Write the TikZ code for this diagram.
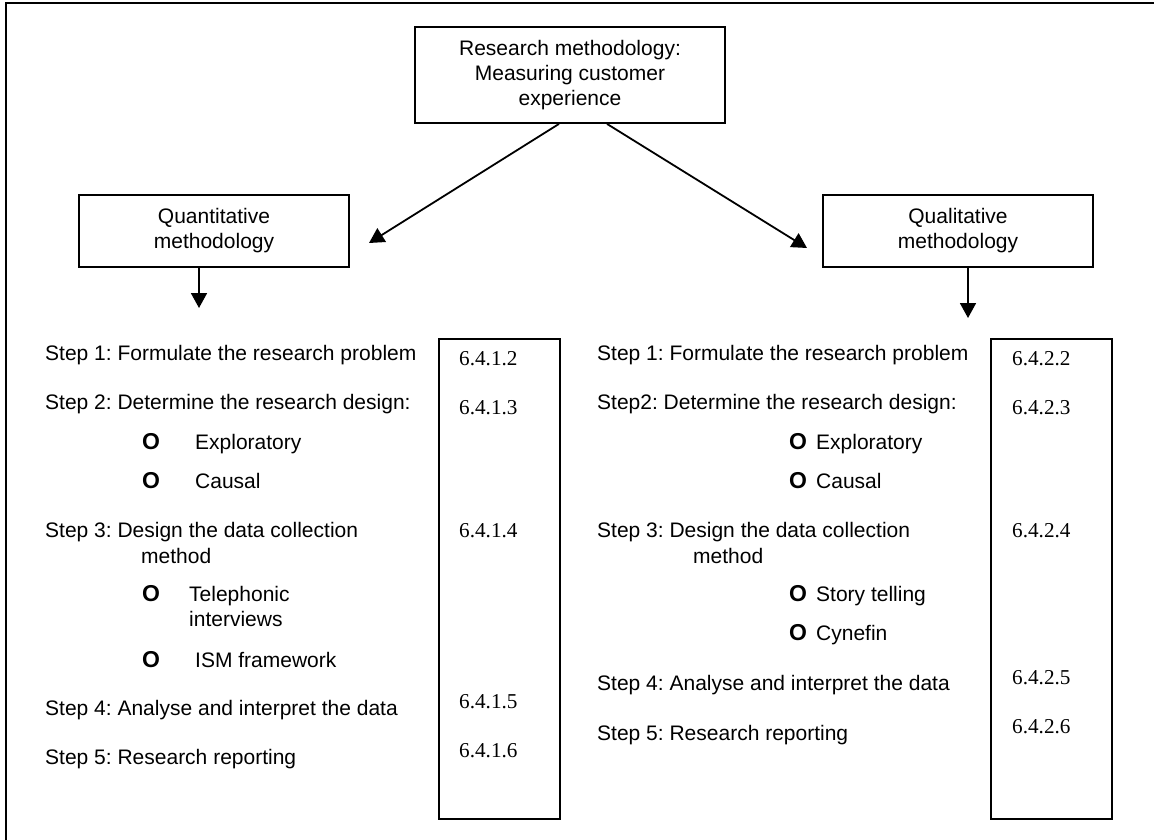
\documentclass[tikz,border=0pt]{standalone}
\usepackage{fontspec}
\setmainfont{Liberation Sans}
\newfontfamily\numfont{Liberation Serif}
\usetikzlibrary{arrows.meta}
\frenchspacing

\begin{document}
\begin{tikzpicture}[x=1pt,y=-1pt,
  box/.style={draw, line width=1.8pt, inner sep=0pt, align=center,
              font=\fontsize{21}{25}\selectfont},
  numbox/.style={draw, line width=1.8pt, inner sep=0pt},
  txt/.style={anchor=mid west, inner sep=0pt, font=\fontsize{21}{25}\selectfont},
  num/.style={anchor=mid west, inner sep=0pt, font=\numfont\fontsize{21.2}{25}\selectfont},
  bul/.style={anchor=mid west, inner sep=0pt, font=\fontsize{23}{25}\selectfont\bfseries},
  arr/.style={-{Triangle[length=15pt,width=16pt]}, line width=1.8pt}]
\useasboundingbox (0,0) rectangle (1154,840);

% outer frame (top and left edges)
\draw[line width=1.8pt] (6,840) -- (6,3) -- (1154,3);

% headline boxes
\node[box, minimum width=310pt, minimum height=96pt] (top) at (570,75)
  {Research methodology:\\Measuring customer\\experience};
\node[box, minimum width=270pt, minimum height=72pt] (quant) at (214,231)
  {Quantitative\\methodology};
\node[box, minimum width=270pt, minimum height=72pt] (qual) at (958,231)
  {Qualitative\\methodology};

% connector end points
\coordinate (topL) at (559,0);
\coordinate (topR) at (607,0);
\coordinate (tipL) at (369,243);
\coordinate (tipR) at (807,248);
\coordinate (downL) at (199,308);
\coordinate (downR) at (968,318);

\draw[arr] (top.south -| topL) -- (tipL);
\draw[arr] (top.south -| topR) -- (tipR);
\draw[arr] (quant.south -| downL) -- (downL);
\draw[arr] (qual.south -| downR) -- (downR);

% section number boxes
\node[numbox, minimum width=121pt, minimum height=480pt] (numL) at (499.5,579) {};
\node[numbox, minimum width=121pt, minimum height=480pt] (numR) at (1051.5,579) {};

% quantitative steps
\node[txt] (q1) at (45,357.6) {Step 1: Formulate the research problem};
\node[txt] (q2) at (45,406.6) {Step 2: Determine the research design:};
\node[bul] (q2ab) at (142,447) {O};
\node[txt] (q2a) at (195,447) {Exploratory};
\node[bul] (q2bb) at (142,486) {O};
\node[txt] (q2b) at (195,486) {Causal};
\node[txt] (q3) at (45,535) {Step 3: Design the data collection};
\node[txt] (q3m) at (141,560.4) {method};
\node[bul] (q3ab) at (142,599.3) {O};
\node[txt] (q3a) at (189,599.3) {Telephonic};
\node[txt] (q3a2) at (189,624) {interviews};
\node[bul] (q3bb) at (142,664.6) {O};
\node[txt] (q3b) at (195,664.6) {ISM framework};
\node[txt] (q4) at (45,712.6) {Step 4: Analyse and interpret the data};
\node[txt] (q5) at (45,761.6) {Step 5: Research reporting};

\node[num] (n12) at (459,362.7) {6.4.1.2};
\node[num] (n13) at (459,411.7) {6.4.1.3};
\node[num] (n14) at (459,535) {6.4.1.4};
\node[num] (n15) at (459,705.8) {6.4.1.5};
\node[num] (n16) at (459,754.8) {6.4.1.6};

% qualitative steps
\node[txt] (r1) at (597,357.6) {Step 1: Formulate the research problem};
\node[txt] (r2) at (597,406.6) {Step2: Determine the research design:};
\node[bul] (r2ab) at (789,447) {O};
\node[txt] (r2a) at (816,447) {Exploratory};
\node[bul] (r2bb) at (789,486) {O};
\node[txt] (r2b) at (816,486) {Causal};
\node[txt] (r3) at (597,535) {Step 3: Design the data collection};
\node[txt] (r3m) at (693,560.4) {method};
\node[bul] (r3ab) at (789,599.3) {O};
\node[txt] (r3a) at (816,599.3) {Story telling};
\node[bul] (r3bb) at (789,638.2) {O};
\node[txt] (r3b) at (816,638.2) {Cynefin};
\node[txt] (r4) at (597,688.2) {Step 4: Analyse and interpret the data};
\node[txt] (r5) at (597,738) {Step 5: Research reporting};

\node[num] (n22) at (1012,362.7) {6.4.2.2};
\node[num] (n23) at (1012,411.7) {6.4.2.3};
\node[num] (n24) at (1012,535) {6.4.2.4};
\node[num] (n25) at (1012,681.5) {6.4.2.5};
\node[num] (n26) at (1012,731) {6.4.2.6};
\end{tikzpicture}
\end{document}
